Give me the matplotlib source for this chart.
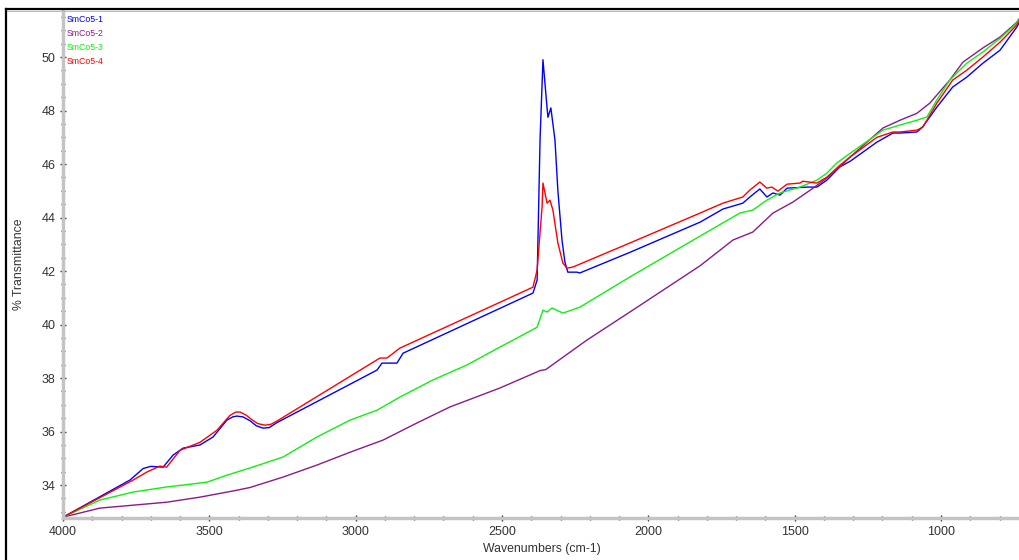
import matplotlib
matplotlib.use("Agg")
import matplotlib.pyplot as plt
from matplotlib.lines import Line2D
from matplotlib.ticker import MultipleLocator

plt.rcParams['font.family'] = ['Liberation Sans', 'DejaVu Sans']

series_names = ["SmCo5-1", "SmCo5-2", "SmCo5-3", "SmCo5-4"]
series_colors = ["#0000ff", "#8b1a8b", "#11ee11", "#ff0000"]

# SmCo5-1 (blue)
wn1 = [4000, 3771, 3726, 3700, 3658, 3624, 3590, 3532, 3487, 3440, 3420, 3406, 3385, 3360,
       3340, 3317, 3295, 3270,
       2927, 2910, 2859, 2838, 2394, 2380, 2370, 2360, 2346, 2343, 2333, 2319, 2309,
       2295, 2285, 2275, 2244, 2234, 2063, 1823, 1745, 1677, 1653, 1619, 1595, 1574,
       1550, 1526, 1458, 1424, 1390, 1345, 1311, 1219, 1164, 1140, 1082, 1062, 1014,
       960, 912, 857, 798, 741, 730]
t1 = [32.8, 34.19, 34.62, 34.7, 34.67, 35.12, 35.38, 35.5, 35.8, 36.43, 36.55, 36.58, 36.55, 36.4,
      36.22, 36.13, 36.15, 36.33,
      38.3, 38.56, 38.56, 38.93, 41.18, 41.66, 46.9, 49.9, 48.1, 47.75, 48.1, 46.9, 45.0,
      43.16, 42.34, 41.96, 41.96, 41.93, 42.7, 43.83, 44.32, 44.54, 44.77, 45.07, 44.77, 44.92,
      44.84, 45.1, 45.14, 45.14, 45.4, 45.9, 46.1, 46.82, 47.16, 47.16, 47.2, 47.4, 48.13,
      48.88, 49.25, 49.77, 50.26, 51.12, 51.35]

# SmCo5-2 (purple)
wn2 = [4000, 3874, 3760, 3646, 3532, 3419, 3361, 3248, 3132, 3019, 2907, 2791, 2678,
       2507, 2370, 2350, 2340, 2210, 2063, 1823, 1711, 1643, 1574, 1506, 1437, 1390,
       1345, 1311, 1198, 1140, 1082, 1038, 970, 925, 857, 798, 741, 730]
t2 = [32.8, 33.14, 33.25, 33.36, 33.55, 33.78, 33.91, 34.3, 34.75, 35.23, 35.68, 36.32, 36.92,
      37.63, 38.28, 38.32, 38.4, 39.42, 40.47, 42.2, 43.16, 43.46, 44.17, 44.58, 45.1, 45.48,
      45.9, 46.26, 47.35, 47.64, 47.9, 48.28, 49.14, 49.81, 50.34, 50.75, 51.3, 51.48]

# SmCo5-3 (green)
wn3 = [4000, 3874, 3760, 3646, 3590, 3508, 3440, 3361, 3248, 3132, 3019, 2927, 2849,
       2736, 2620, 2507, 2462, 2380, 2360, 2346, 2329, 2292, 2234, 2063, 1823, 1687,
       1643, 1595, 1550, 1482, 1424, 1390, 1356, 1311, 1198, 1140, 1082, 1048, 1014,
       970, 912, 857, 798, 741, 730]
t3 = [32.8, 33.44, 33.74, 33.93, 34.0, 34.11, 34.37, 34.64, 35.05, 35.8, 36.43, 36.8, 37.29,
      37.93, 38.49, 39.16, 39.42, 39.9, 40.54, 40.47, 40.62, 40.43, 40.65, 41.78, 43.31, 44.17,
      44.28, 44.65, 44.92, 45.14, 45.4, 45.66, 46.04, 46.4, 47.27, 47.46, 47.64, 47.76, 48.4,
      49.14, 49.77, 50.19, 50.7, 51.27, 51.45]

# SmCo5-4 (red)
wn4 = [4000, 3760, 3713, 3669, 3646, 3600, 3532, 3474, 3430, 3410, 3395, 3375, 3355, 3335,
       3310, 3290, 3265, 2917,
       2893, 2849, 2394, 2380, 2363, 2360, 2346, 2336, 2326, 2309, 2292, 2278, 2258,
       2063, 1823, 1745, 1677, 1653, 1619, 1595, 1578, 1557, 1526, 1482, 1472, 1424,
       1390, 1345, 1311, 1219, 1164, 1140, 1082, 1062, 1014, 960, 912, 857, 798, 741, 730]
t4 = [32.8, 34.19, 34.49, 34.71, 34.67, 35.3, 35.6, 36.05, 36.6, 36.73, 36.73, 36.62, 36.45, 36.3,
      36.24, 36.27, 36.42, 38.75,
      38.75, 39.12, 41.4, 42.04, 44.4, 45.29, 44.54, 44.65, 44.28, 43.05, 42.3, 42.11, 42.15,
      43.05, 44.17, 44.54, 44.77, 45.03, 45.33, 45.1, 45.14, 44.99, 45.25, 45.29, 45.36, 45.29,
      45.51, 45.96, 46.26, 47.0, 47.2, 47.2, 47.27, 47.38, 48.28, 49.14, 49.51, 50.0, 50.56, 51.2, 51.4]

x_ticks = [4000, 3500, 3000, 2500, 2000, 1500, 1000]
y_ticks = [34, 36, 38, 40, 42, 44, 46, 48, 50]

fig = plt.figure(figsize=(10.2, 5.6), dpi=100)
ax = fig.add_axes([63 / 1020, 1 - 518 / 560, 1 - 63 / 1020, (518 - 10) / 560])

for wn, t, c in zip([wn1, wn2, wn3, wn4], [t1, t2, t3, t4], series_colors):
    ax.plot(wn, t, color=c, lw=1.0)

ax.set_xlim(4000, 730)
ax.set_ylim(32.77, 51.76)
ax.set_xticks(x_ticks)
ax.set_yticks(y_ticks)
ax.xaxis.set_minor_locator(MultipleLocator(100))
ax.yaxis.set_minor_locator(MultipleLocator(0.5))

for s in ['top', 'right']:
    ax.spines[s].set_visible(False)
for s in ['left', 'bottom']:
    ax.spines[s].set_color('#c4c4c4')
    ax.spines[s].set_linewidth(2.5)

ax.tick_params(which='major', direction='inout', length=5, width=1, color='#333333',
               labelsize=9, labelcolor='#333333', pad=3)
ax.tick_params(which='minor', direction='inout', length=3, width=1, color='#333333')

ax.set_xlabel("Wavenumbers (cm-1)", fontsize=8.8, color='#333333', labelpad=4)
ax.set_ylabel("% Transmittance", fontsize=8.8, color='#333333', labelpad=12)

# legend as coloured text
for i, (name, c) in enumerate(zip(series_names, series_colors)):
    fig.text(67 / 1020, 1 - (19 + 14 * i) / 560, name, color=c, fontsize=6.3,
             va='center', ha='left')

# outer frame lines
fig.add_artist(Line2D([6 / 1020, 1], [1 - 9 / 560, 1 - 9 / 560], color='black', lw=1.6,
                      transform=fig.transFigure))
fig.add_artist(Line2D([6 / 1020, 1], [1 - 11 / 560, 1 - 11 / 560], color='#bdbdbd', lw=0.8,
                      transform=fig.transFigure))
fig.add_artist(Line2D([6 / 1020, 6 / 1020], [0, 1 - 9 / 560], color='black', lw=1.6,
                      transform=fig.transFigure))

fig.savefig("out.png", dpi=100)
